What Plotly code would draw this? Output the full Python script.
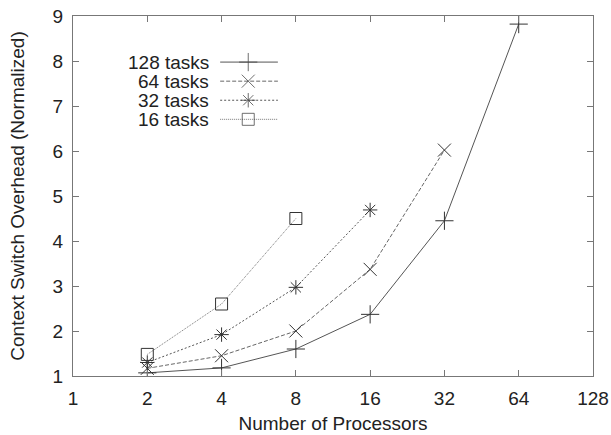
import plotly.graph_objects as go

# ---- data ----
processors = [2, 4, 8, 16, 32, 64]
series_names = ["128 tasks", "64 tasks", "32 tasks", "16 tasks"]
tasks128 = [1.07, 1.18, 1.60, 2.37, 4.45, 8.82]
tasks64 = [1.17, 1.45, 2.00, 3.37, 6.02]
tasks32 = [1.30, 1.92, 2.97, 4.69]
tasks16 = [1.48, 2.60, 4.50]
x_ticks = [1, 2, 4, 8, 16, 32, 64, 128]
y_ticks = [1, 2, 3, 4, 5, 6, 7, 8, 9]

series = [tasks128, tasks64, tasks32, tasks16]
styles = [
    dict(dash="solid", symbol="cross-thin", size=13, color="#555555"),
    dict(dash="4px,2px", symbol="x-thin", size=13, color="#666666"),
    dict(dash="2px,2px", symbol="asterisk", size=12, color="#555555"),
    dict(dash="1px,1px", symbol="square-open", size=12, color="#777777"),
]

FONT = "Liberation Sans, Arial, sans-serif"
fig = go.Figure()

for name, vals, st in zip(series_names, series, styles):
    fig.add_trace(go.Scatter(
        x=processors[:len(vals)], y=vals, mode="lines+markers", name=name,
        line=dict(color=st["color"], width=1, dash=st["dash"]),
        marker=dict(symbol=st["symbol"], size=st["size"], color="#333333",
                    line=dict(color="#333333", width=1)),
        showlegend=False,
    ))

# ---- custom legend (gnuplot style: text on left, sample on right) ----
leg_rows = [0.872, 0.819, 0.766, 0.713]
leg_x0, leg_xm, leg_x1, leg_text_x = 0.283, 0.337, 0.394, 0.266
for name, st, yy in zip(series_names, styles, leg_rows):
    fig.add_trace(go.Scatter(
        x=[leg_x0, leg_xm, leg_x1], y=[yy, yy, yy], mode="lines+markers",
        xaxis="x2", yaxis="y2", showlegend=False, hoverinfo="skip",
        line=dict(color=st["color"], width=1, dash=st["dash"]),
        marker=dict(symbol=st["symbol"], size=[0, st["size"], 0], color="#333333",
                    line=dict(color="#333333", width=1)),
    ))
    fig.add_annotation(x=leg_text_x, y=yy, xref="paper", yref="paper",
                       text=name, showarrow=False, xanchor="right", yanchor="middle",
                       font=dict(family=FONT, size=19, color="#222222"))

axis_common = dict(
    showline=True, linecolor="#777777", linewidth=1, mirror="ticks",
    ticks="inside", ticklen=6, tickcolor="#777777", showgrid=False, zeroline=False,
    tickfont=dict(family=FONT, size=19, color="#222222"), automargin=False,
)

fig.update_layout(
    width=611, height=435,
    margin=dict(l=73, r=18, t=16, b=59),
    paper_bgcolor="white", plot_bgcolor="white",
    xaxis=dict(type="log", range=[0, 2.10721], tickvals=x_ticks,
               ticktext=[str(v) for v in x_ticks], ticklabelstandoff=5,
               title=dict(text="Number of Processors", standoff=8,
                          font=dict(family=FONT, size=19, color="#222222")),
               **axis_common),
    yaxis=dict(range=[1, 9], tickvals=y_ticks, ticklabelstandoff=5,
               title=dict(text="Context Switch Overhead (Normalized)", standoff=22,
                          font=dict(family=FONT, size=19, color="#222222")),
               **axis_common),
    xaxis2=dict(overlaying="x", range=[0, 1], visible=False),
    yaxis2=dict(overlaying="y", range=[0, 1], visible=False),
)

# remove the page's default 8px body margin so the figure fills the window
fig.write_html("out.html", config={"displayModeBar": False},
               post_script="document.body.style.margin='0px';document.body.style.overflow='hidden';")
